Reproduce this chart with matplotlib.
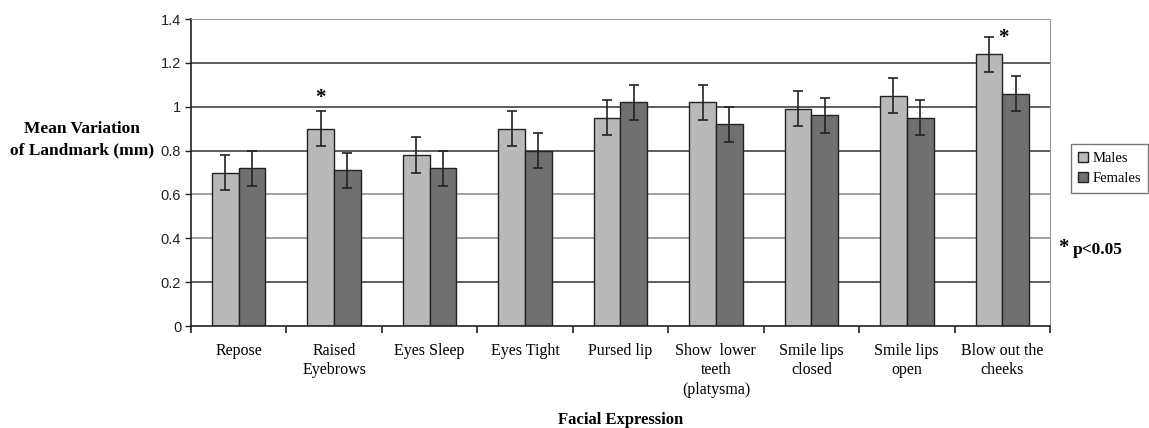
import numpy as np
import matplotlib.pyplot as plt

# Mean variation of landmark per facial expression (mm)
expressions = ['Repose', 'Raised\nEyebrows', 'Eyes Sleep', 'Eyes Tight', 'Pursed lip',
               'Show  lower\nteeth\n(platysma)', 'Smile lips\nclosed', 'Smile lips\nopen',
               'Blow out the\ncheeks']
males = [0.70, 0.90, 0.78, 0.90, 0.95, 1.02, 0.99, 1.05, 1.24]
females = [0.72, 0.71, 0.72, 0.80, 1.02, 0.92, 0.96, 0.95, 1.06]
males_err = [0.08, 0.08, 0.08, 0.08, 0.08, 0.08, 0.08, 0.08, 0.08]
females_err = [0.08, 0.08, 0.08, 0.08, 0.08, 0.08, 0.08, 0.08, 0.08]

serif = 'Liberation Serif'

fig = plt.figure(figsize=(11.49, 4.28), dpi=100)
ax = fig.add_axes([0.1662, 0.2383, 0.7476, 0.7173])

x = np.arange(len(expressions))
w = 0.28

ax.set_axisbelow(True)
for v in np.arange(0.2, 1.41, 0.2):
    ax.axhline(v, color='#333333' if round(v, 1) in (0.2, 0.8, 1.0, 1.2) else '#888888',
               linewidth=1.1, zorder=0)

ax.bar(x - w / 2, males, w, color='#b9b9b9', edgecolor='#222222', linewidth=1.0,
       label='Males', zorder=2)
ax.bar(x + w / 2, females, w, color='#707070', edgecolor='#222222', linewidth=1.0,
       label='Females', zorder=2)
ax.errorbar(x - w / 2, males, yerr=males_err, fmt='none', ecolor='#222222',
            elinewidth=1.2, capsize=3.5, capthick=1.2, zorder=3)
ax.errorbar(x + w / 2, females, yerr=females_err, fmt='none', ecolor='#222222',
            elinewidth=1.2, capsize=3.5, capthick=1.2, zorder=3)

# significance markers
ax.text(x[1] - w / 2, males[1] + males_err[1] + 0.015, '*', ha='center', va='bottom',
        fontsize=15, family=serif, fontweight='bold')
ax.text(x[8] - w / 2 + 0.1, males[8] + males_err[8] - 0.05, '*', ha='left', va='bottom',
        fontsize=15, family=serif, fontweight='bold')

ax.set_xlim(-0.5, len(expressions) - 0.5)
ax.set_ylim(0, 1.4)
ax.set_yticks(np.arange(0, 1.41, 0.2))
ax.set_yticklabels(['0', '0.2', '0.4', '0.6', '0.8', '1', '1.2', '1.4'],
                   fontsize=10.5, color='#222222', family='Liberation Sans')
ax.tick_params(axis='y', direction='out', length=4, width=1, color='#222222', pad=3)

ax.set_xticks(x)
ax.set_xticklabels(expressions, fontsize=11.5, family=serif, linespacing=1.3)
ax.tick_params(axis='x', length=0, pad=12)
ax.set_xticks(np.arange(-0.5, len(expressions)), minor=True)
ax.tick_params(axis='x', which='minor', direction='out', length=5, width=1.2, color='#222222')

ax.spines['left'].set_color('#222222')
ax.spines['left'].set_linewidth(1.2)
ax.spines['bottom'].set_color('#222222')
ax.spines['bottom'].set_linewidth(1.2)
ax.spines['top'].set_color('#999999')
ax.spines['right'].set_color('#999999')

fig.text(0.071, 0.673, 'Mean Variation\nof Landmark (mm)', ha='center', va='center',
         fontsize=12.5, family=serif, fontweight='bold', linespacing=1.45)
fig.text(0.54, 0.018, 'Facial Expression', ha='center', va='center',
         fontsize=12, family=serif, fontweight='bold')

leg = fig.legend(loc='upper left', bbox_to_anchor=(0.9255, 0.68),
                 prop={'family': serif, 'size': 10.5}, frameon=True, fancybox=False,
                 handlelength=0.7, handleheight=0.7, handletextpad=0.3,
                 borderpad=0.5, labelspacing=0.5)
leg.get_frame().set_edgecolor('#555555')
leg.get_frame().set_linewidth(1)

fig.text(0.921, 0.42, '*', ha='left', va='center', fontsize=15, family=serif, fontweight='bold')
fig.text(0.934, 0.415, 'p<0.05', ha='left', va='center', fontsize=12.5, family=serif,
         fontweight='bold')

fig.savefig('out.png', dpi=100)
